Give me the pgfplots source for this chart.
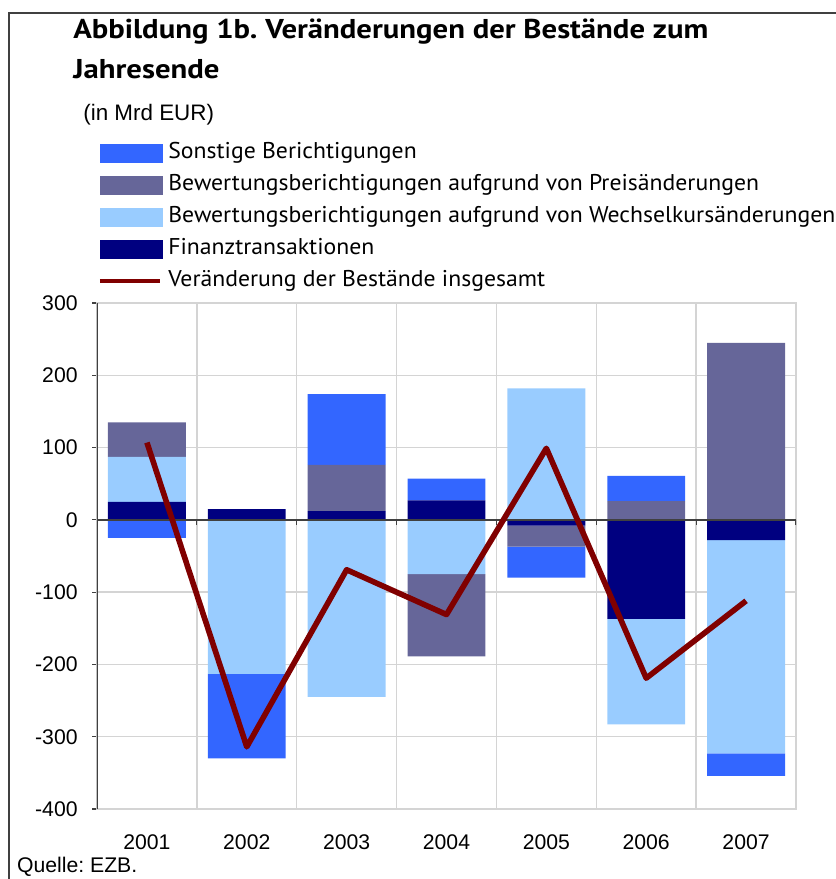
\documentclass[border=0pt]{standalone}
\usepackage{pgfplots}
\pgfplotsset{compat=1.18}
\usepackage{pgfplotstable}
\usepackage{fontspec}
\setmainfont{Liberation Sans}
\newfontfamily\gill{PT Sans}[FakeStretch=1.04]
\newfontfamily\gilltitle{PT Sans Bold}[FakeStretch=1.13]
\frenchspacing
\definecolor{cSon}{HTML}{3366FF}
\definecolor{cPre}{HTML}{666699}
\definecolor{cWec}{HTML}{99CCFF}
\definecolor{cFin}{HTML}{000080}
\definecolor{cTot}{HTML}{800000}
\definecolor{cGrid}{HTML}{D4D4D4}
\definecolor{cAx}{HTML}{404040}

% positive parts (stack order: Finanz, Wechselkurs, Preis, Sonstige)
\pgfplotstableread{
x fin wec pre son
0 25 62 48 0
1 15 0 0 0
2 12 0 64 98
3 27 0 0 30
4 0 182 0 0
5 0 0 26 35
6 0 0 245 0
}\postab
% negative parts
\pgfplotstableread{
x fin wec pre son
0 0 0 0 -25
1 0 -213 0 -117
2 0 -245 0 0
3 0 -75 -114 0
4 -8 0 -29 -43
5 -137 -146 0 0
6 -28 -295 0 -31
}\negtab
\pgfplotstableread{
x tot
0 107
1 -314
2 -69
3 -131
4 99
5 -219
6 -112
}\tottab

\pgfplotsset{common/.style={at={(48.5pt,-404.5pt)}, anchor=south west,
  scale only axis, width=349.5pt, height=253pt,
  xmin=-0.5, xmax=6.5, ymin=-400, ymax=300, enlargelimits=false}}

\begin{document}
\begin{tikzpicture}
\useasboundingbox (0,0) rectangle (418pt,-439.5pt);
\draw[cAx, line width=0.75pt] (4.5pt,-439.5pt) -- (4.5pt,-6.4pt) -- (418pt,-6.4pt);
\node[anchor=base west, inner sep=0pt] at (36.5pt,-19.15pt) {\gilltitle\fontsize{13.6}{15}\selectfont Abbildung 1b. Veränderungen der Bestände zum};
\node[anchor=base west, inner sep=0pt] at (36.5pt,-39pt) {\gilltitle\fontsize{13.6}{15}\selectfont Jahresende};
\node[anchor=base west, inner sep=0pt] at (41.5pt,-60.35pt) {\fontsize{11.2}{13}\selectfont (in Mrd EUR)};
\node[anchor=base west, inner sep=0pt] at (8.35pt,-436.35pt) {\fontsize{10.6}{12}\selectfont Quelle: EZB.};

\begin{axis}[common, ybar stacked, bar width=0.78,
  axis line style={cGrid, line width=0.75pt},
  xtick={0,...,6}, xticklabels={2001,2002,2003,2004,2005,2006,2007},
  minor xtick={0.5,1.5,...,5.5}, xminorgrids=true, ymajorgrids=true,
  grid style={cGrid, line width=0.75pt},
  minor grid style={cGrid, line width=0.75pt},
  ytick={-400,-300,...,300},
  yticklabels={-400,-300,-200,-100,0,100,200,300},
  ytick pos=left, tick align=outside, major tick length=2.5pt, minor tick length=0pt,
  xtick style={draw=none}, ytick style={cAx, line width=0.6pt},
  ticklabel style={font=\fontsize{10.6}{12}\selectfont, inner sep=0pt},
  xticklabel style={yshift=-10pt},
  yticklabel style={xshift=-7pt},
]
\addplot[fill=cFin, draw=none] table[x=x,y=fin]{\postab};
\addplot[fill=cWec, draw=none] table[x=x,y=wec]{\postab};
\addplot[fill=cPre, draw=none] table[x=x,y=pre]{\postab};
\addplot[fill=cSon, draw=none] table[x=x,y=son]{\postab};
\end{axis}

\begin{axis}[common, ybar stacked, bar width=0.78, hide axis]
\addplot[fill=cFin, draw=none] table[x=x,y=fin]{\negtab};
\addplot[fill=cWec, draw=none] table[x=x,y=wec]{\negtab};
\addplot[fill=cPre, draw=none] table[x=x,y=pre]{\negtab};
\addplot[fill=cSon, draw=none] table[x=x,y=son]{\negtab};
\end{axis}

\begin{axis}[common, hide axis,
  legend style={at={(0.0014,1.3168)}, anchor=north west, draw=none, fill=none,
    inner sep=0pt, outer sep=0pt, font=\gill\fontsize{11.4}{13}\selectfont,
    row sep=5.5pt, column sep=3pt,
    nodes={inner sep=0pt, text height=8pt, text depth=2.5pt}},
  legend cell align=left]
\addlegendimage{legend image code/.code={\fill[cSon] (0pt,-4.5pt) rectangle (31pt,4.5pt);}}
\addlegendentry{Sonstige Berichtigungen}
\addlegendimage{legend image code/.code={\fill[cPre] (0pt,-4.5pt) rectangle (31pt,4.5pt);}}
\addlegendentry{Bewertungsberichtigungen aufgrund von Preisänderungen}
\addlegendimage{legend image code/.code={\fill[cWec] (0pt,-4.5pt) rectangle (31pt,4.5pt);}}
\addlegendentry{Bewertungsberichtigungen aufgrund von Wechselkursänderungen}
\addlegendimage{legend image code/.code={\fill[cFin] (0pt,-4.5pt) rectangle (31pt,4.5pt);}}
\addlegendentry{Finanztransaktionen}
\draw[cAx, line width=0.75pt] (axis cs:-0.5,0) -- (axis cs:6.5,0);
\pgfplotsinvokeforeach{0.5,1.5,...,6.5}{\draw[cAx, line width=0.6pt] (axis cs:#1,0) -- ++(0pt,-2.5pt);}
\draw[cAx, line width=0.9pt] (axis cs:-0.5,-400) -- (axis cs:-0.5,300);
\addplot[cTot, line width=2.8pt, line join=round,
  legend image code/.code={\draw[cTot, line width=2pt] (0pt,0pt) -- (30pt,0pt);}]
  table[x=x,y=tot]{\tottab};
\addlegendentry{Veränderung der Bestände insgesamt}
\end{axis}
\end{tikzpicture}
\end{document}
